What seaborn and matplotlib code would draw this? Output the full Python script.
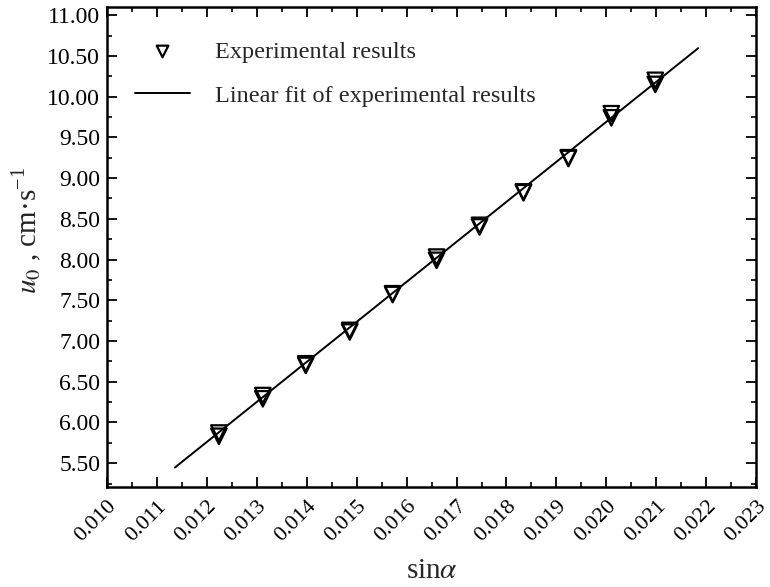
import numpy as np
import pandas as pd
import matplotlib
matplotlib.use("Agg")
import matplotlib.pyplot as plt
from matplotlib.ticker import MultipleLocator, FormatStrFormatter
import seaborn as sns

# ---- data ----
sin_alpha = [0.01224, 0.01312, 0.01398, 0.01486, 0.01572, 0.01660,
             0.01746, 0.01834, 0.01924, 0.02010, 0.02098]
u0_run1 = [5.87, 6.33, 6.72, 7.13, 7.58, 8.03, 8.42, 8.83, 9.25, 9.79, 10.20]
u0_run2 = [5.83, 6.29, 6.70, 7.11, 7.57, 7.99, 8.40, 8.82, 9.24, 9.74, 10.15]
fit_x = [0.01136, 0.02184]
fit_y = [5.447, 10.595]
x_ticks = [0.010, 0.011, 0.012, 0.013, 0.014, 0.015, 0.016,
           0.017, 0.018, 0.019, 0.020, 0.021, 0.022, 0.023]

sns.set_theme(style="ticks")
plt.rcParams["font.family"] = ["Liberation Serif", "DejaVu Serif"]
plt.rcParams["mathtext.fontset"] = "stix"

df = pd.DataFrame({
    "x": sin_alpha + sin_alpha,
    "y": u0_run1 + u0_run2,
})
fit = pd.DataFrame({"x": fit_x, "y": fit_y})

fig = plt.figure(figsize=(7.7, 5.87), dpi=100)
ax = fig.add_axes([0.139, 0.170, 0.843, 0.818])

sns.scatterplot(data=df, x="x", y="y", ax=ax, marker="v", s=125,
                facecolor="none", edgecolor="black", linewidth=1.6,
                label="Experimental results", zorder=3)
sns.lineplot(data=fit, x="x", y="y", ax=ax, color="black", linewidth=1.4,
             label="Linear fit of experimental results", zorder=2)

ax.set_xlim(0.010, 0.023)
ax.set_ylim(5.205, 11.10)
ax.set_xticks(x_ticks)
ax.xaxis.set_major_formatter(FormatStrFormatter("%.3f"))
ax.xaxis.set_minor_locator(MultipleLocator(0.0005))
ax.yaxis.set_major_locator(MultipleLocator(0.5))
ax.yaxis.set_minor_locator(MultipleLocator(0.25))
ax.yaxis.set_major_formatter(FormatStrFormatter("%.2f"))

ax.tick_params(which="both", direction="in", top=True, right=True,
               color="black", labelcolor="black")
ax.tick_params(which="major", length=7, width=1.3, labelsize=17)
ax.tick_params(which="minor", length=3.5, width=1.2)
ax.tick_params(axis="x", which="major", pad=7, labelsize=16)
plt.setp(ax.get_xticklabels(), rotation=45, ha="right", rotation_mode="anchor")
ax.tick_params(axis="y", which="major", pad=5)

for sp in ax.spines.values():
    sp.set_linewidth(1.8)
    sp.set_color("black")

ax.set_xlabel(r"sin$\alpha$", fontsize=21, labelpad=9)
ax.set_ylabel(r"$u_0$ , cm·s$^{\mathregular{-1}}$", fontsize=21)
ax.yaxis.set_label_coords(-0.097, 0.535)

ax.legend(loc="upper left", frameon=False, fontsize=17.5, markerscale=0.75,
          handlelength=2.3, handletextpad=1.0, labelspacing=0.9,
          bbox_to_anchor=(0.02, 0.96), borderaxespad=0.2)

fig.savefig("out.png", dpi=100)
